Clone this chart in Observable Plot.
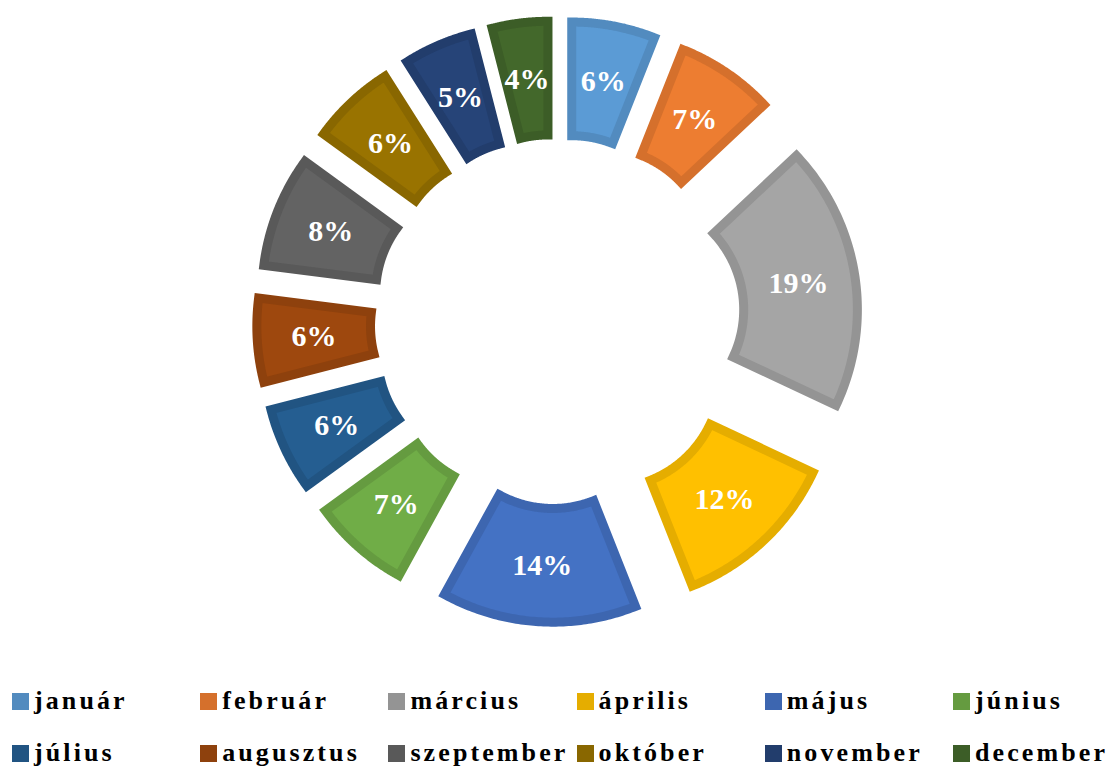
<!DOCTYPE html>
<html>
<head>
<meta charset="utf-8">
<script src="https://cdn.jsdelivr.net/npm/d3@7"></script>
<script src="https://cdn.jsdelivr.net/npm/@observablehq/plot@0.6"></script>
<style>
  html, body { margin: 0; padding: 0; background: #fff; }
  #wrap { width: 1113px; height: 767px; position: relative; overflow: hidden; }
  #legend { position: absolute; left: 0; top: 680px; width: 1113px; height: 87px; }
  .sw { position: absolute; width: 17px; height: 17px; }
  .lb { position: absolute; font-family: "Liberation Serif", "Times New Roman", serif; font-weight: bold;
        font-size: 26px; line-height: 1; letter-spacing: 3.1px; color: #000; white-space: nowrap; }
</style>
</head>
<body>
<div id="wrap"><div id="chart"></div><div id="legend"></div></div>
<script>
// ---- data ----
const months = ["január","február","március","április","május","június",
                "július","augusztus","szeptember","október","november","december"];
const values = [6, 7, 19, 12, 14, 7, 6, 6, 8, 6, 5, 4];
const fills = ["#5B9BD5","#ED7D31","#A5A5A5","#FFC000","#4472C4","#70AD47",
               "#255E91","#9E480E","#636363","#997300","#264478","#43682B"];

// ---- layout constants ----
const W = 1113, H = 680;
const CX = 557, CY = 321, PX = 226;          // center (px) and pixels per unit radius
const R_OUT = 0.995, R_IN = 0.492, EXPLODE = 0.336;

const total = d3.sum(values);
const borders = fills.map(f => d3.color(f).darker(0.3).formatHex());

// build slice outlines in data units (angles clockwise from top)
const pts = [];
const labels = [];
let acc = 0;
values.forEach((v, i) => {
  const a0 = acc / total * 2 * Math.PI;
  acc += v;
  const a1 = acc / total * 2 * Math.PI;
  const am = (a0 + a1) / 2;
  const ox = EXPLODE * Math.sin(am), oy = EXPLODE * Math.cos(am);
  const P = (r, a) => ({month: months[i], fill: fills[i], stroke: borders[i],
                        x: ox + r * Math.sin(a), y: oy + r * Math.cos(a)});
  const n = 80;
  const seq = [];
  for (let k = 0; k <= n / 2; k++) seq.push(P(R_OUT, am + (a1 - am) * k / (n / 2)));
  for (let k = 0; k <= n; k++) seq.push(P(R_IN, a1 + (a0 - a1) * k / n));
  for (let k = 0; k <= n / 2; k++) seq.push(P(R_OUT, a0 + (am - a0) * k / (n / 2)));
  pts.push(...seq);
  const rc = (R_OUT + R_IN) / 2;
  labels.push({x: ox + rc * Math.sin(am), y: oy + rc * Math.cos(am), text: v + "%"});
});

const chart = Plot.plot({
  width: W, height: H,
  margin: 0,
  x: {domain: [-CX / PX, (W - CX) / PX], range: [0, W], axis: null},
  y: {domain: [-(H - CY) / PX, CY / PX], range: [H, 0], axis: null},
  color: {type: "identity"},
  style: {background: "white", overflow: "visible"},
  marks: [
    Plot.line(pts, {x: "x", y: "y", z: "month", fill: "fill", stroke: "stroke",
                    strokeWidth: 9, strokeLinejoin: "miter", strokeMiterlimit: 10,
                    curve: "linear"}),
    Plot.text(labels, {x: "x", y: "y", text: "text", fill: "white",
                       fontSize: 30, fontWeight: "bold",
                       fontFamily: "Liberation Serif, Times New Roman, serif"})
  ]
});
document.getElementById("chart").appendChild(chart);

// ---- legend ----
const legend = document.getElementById("legend");
months.forEach((m, i) => {
  const col = i % 6, row = Math.floor(i / 6);
  const left = 12 + 188.2 * col;
  const sw = document.createElement("div");
  sw.className = "sw";
  sw.style.left = left + "px";
  sw.style.top = (13 + row * 52) + "px";
  sw.style.background = borders[i];
  legend.appendChild(sw);
  const lb = document.createElement("div");
  lb.className = "lb";
  lb.style.left = (left + 22) + "px";
  lb.style.top = (8 + row * 52) + "px";
  lb.textContent = m;
  legend.appendChild(lb);
});
</script>
</body>
</html>
